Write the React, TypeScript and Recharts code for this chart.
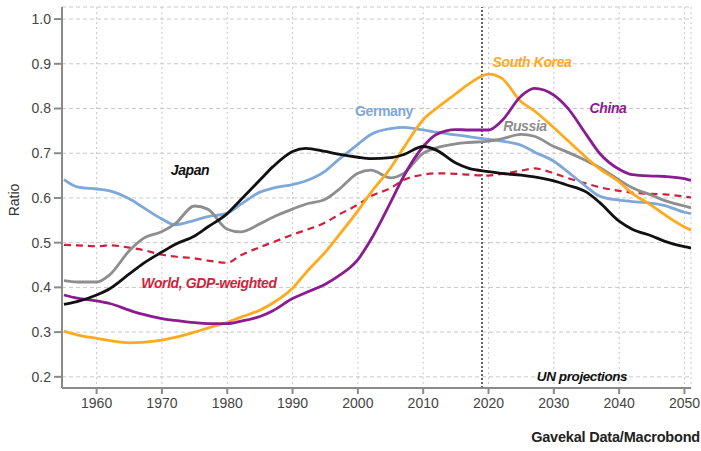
import React from "react";
import {
  LineChart, Line, XAxis, YAxis, CartesianGrid, ReferenceLine,
} from "recharts";

// years; every series below lines up with these
const years = [
  1955, 1957, 1960, 1962, 1965, 1967, 1970, 1972, 1975, 1977,
  1980, 1982, 1985, 1987, 1990, 1992, 1995, 1997, 2000, 2002,
  2005, 2007, 2010, 2012, 2015, 2017, 2020, 2022, 2025, 2027,
  2030, 2032, 2035, 2037, 2040, 2042, 2045, 2047, 2050, 2051,
];

const germany = [
  0.641, 0.625, 0.620, 0.616, 0.598, 0.580, 0.553, 0.540, 0.550, 0.558,
  0.566, 0.585, 0.613, 0.622, 0.630, 0.638, 0.660, 0.685, 0.720, 0.742,
  0.755, 0.758, 0.752, 0.747, 0.741, 0.737, 0.731, 0.727, 0.718, 0.703,
  0.682, 0.660, 0.625, 0.604, 0.595, 0.592, 0.588, 0.583, 0.568, 0.565,
];

const japan = [
  0.362, 0.368, 0.383, 0.397, 0.430, 0.452, 0.479, 0.496, 0.515, 0.535,
  0.565, 0.595, 0.640, 0.670, 0.704, 0.711, 0.704, 0.698, 0.691, 0.688,
  0.690, 0.697, 0.715, 0.707, 0.678, 0.666, 0.659, 0.655, 0.651, 0.647,
  0.638, 0.629, 0.613, 0.590, 0.548, 0.530, 0.515, 0.503, 0.491, 0.488,
];

const russia = [
  0.415, 0.412, 0.412, 0.428, 0.482, 0.508, 0.525, 0.542, 0.582, 0.575,
  0.530, 0.524, 0.542, 0.557, 0.575, 0.586, 0.597, 0.618, 0.655, 0.662,
  0.645, 0.655, 0.700, 0.712, 0.721, 0.724, 0.727, 0.732, 0.742, 0.738,
  0.715, 0.703, 0.683, 0.668, 0.640, 0.623, 0.606, 0.594, 0.582, 0.578,
];

const southKorea = [
  0.302, 0.294, 0.286, 0.281, 0.276, 0.277, 0.282, 0.288, 0.300, 0.309,
  0.322, 0.333, 0.349, 0.365, 0.398, 0.432, 0.479, 0.515, 0.571, 0.612,
  0.667, 0.712, 0.775, 0.800, 0.833, 0.855, 0.877, 0.868, 0.815, 0.795,
  0.757, 0.730, 0.690, 0.665, 0.636, 0.610, 0.583, 0.562, 0.535, 0.528,
];

const china = [
  0.383, 0.376, 0.370, 0.364, 0.349, 0.340, 0.330, 0.326, 0.321, 0.319,
  0.319, 0.324, 0.335, 0.348, 0.375, 0.388, 0.407, 0.425, 0.462, 0.507,
  0.590, 0.648, 0.715, 0.742, 0.753, 0.752, 0.752, 0.772, 0.828, 0.845,
  0.830, 0.803, 0.741, 0.700, 0.664, 0.652, 0.649, 0.648, 0.643, 0.639,
];

const world = [
  0.495, 0.494, 0.492, 0.494, 0.489, 0.484, 0.473, 0.469, 0.465, 0.460,
  0.455, 0.471, 0.490, 0.501, 0.518, 0.528, 0.545, 0.562, 0.585, 0.604,
  0.622, 0.640, 0.652, 0.655, 0.654, 0.652, 0.650, 0.654, 0.661, 0.666,
  0.655, 0.645, 0.632, 0.624, 0.616, 0.612, 0.609, 0.608, 0.603, 0.601,
];

const xTicks = [1960, 1970, 1980, 1990, 2000, 2010, 2020, 2030, 2040, 2050];
const yTicks = [0.2, 0.3, 0.4, 0.5, 0.6, 0.7, 0.8, 0.9, 1.0];
const projectionStart = 2019;

const data = years.map((year, i) => ({
  year,
  germany: germany[i],
  japan: japan[i],
  russia: russia[i],
  southKorea: southKorea[i],
  china: china[i],
  world: world[i],
}));

const FONT = "'Liberation Sans', Arial, sans-serif";
const AXIS = "#8a8a8a";
const GRID = "#c8c8c8";

const labelStyle = (x: number, y: number, color: string, size = 14): React.CSSProperties => ({
  position: "absolute",
  left: x,
  top: y,
  transform: "translate(-50%, -50%)",
  color,
  fontFamily: FONT,
  fontWeight: 700,
  fontStyle: "italic",
  fontSize: size,
  whiteSpace: "nowrap",
  letterSpacing: -0.4,
});

export default function App() {
  return (
    <div style={{ position: "absolute", left: 0, top: 0, width: 701, height: 451, background: "#fff" }}>
      <LineChart
        width={701}
        height={451}
        data={data}
        margin={{ top: 7, right: 10, bottom: 33, left: 0 }}
      >
        <CartesianGrid vertical={false} stroke={GRID} strokeDasharray="4 3" />
        <CartesianGrid horizontal={false} stroke={GRID} strokeDasharray="2 3" />
        <XAxis
          dataKey="year"
          type="number"
          domain={[1954.7, 2051]}
          allowDataOverflow
          ticks={xTicks}
          interval={0}
          height={30}
          tickSize={6}
          tickMargin={4}
          stroke={AXIS}
          strokeWidth={2}
          tick={{ fill: "#444", fontSize: 14, fontFamily: FONT }}
        />
        <XAxis xAxisId="top" orientation="top" dataKey="year" type="number"
          domain={[1954.7, 2051]} height={0} tick={false} tickLine={false}
          stroke={AXIS} strokeWidth={1.5} />
        <YAxis
          type="number"
          domain={[0.175, 1.027]}
          allowDataOverflow
          ticks={yTicks}
          interval={0}
          width={62}
          tickSize={8}
          tickMargin={3}
          stroke={AXIS}
          strokeWidth={2}
          tickFormatter={(v) => Number(v).toFixed(1)}
          tick={{ fill: "#444", fontSize: 14, fontFamily: FONT }}
        />
        <YAxis yAxisId="right" orientation="right" domain={[0.175, 1.027]}
          width={0} tick={false} tickLine={false} stroke={AXIS} strokeWidth={2} />
        <ReferenceLine x={projectionStart} stroke="#333" strokeWidth={1.5} strokeDasharray="2 2" />
        <Line type="monotone" dataKey="world" stroke="#d21f3c" strokeWidth={2.2}
          strokeDasharray="7 5" dot={false} isAnimationActive={false} />
        <Line type="monotone" dataKey="germany" stroke="#7ea7da" strokeWidth={2.8}
          dot={false} isAnimationActive={false} />
        <Line type="monotone" dataKey="russia" stroke="#8e8e8e" strokeWidth={2.8}
          dot={false} isAnimationActive={false} />
        <Line type="monotone" dataKey="southKorea" stroke="#ffa91c" strokeWidth={2.8}
          dot={false} isAnimationActive={false} />
        <Line type="monotone" dataKey="china" stroke="#8a1b91" strokeWidth={2.8}
          dot={false} isAnimationActive={false} />
        <Line type="monotone" dataKey="japan" stroke="#111" strokeWidth={2.8}
          dot={false} isAnimationActive={false} />
      </LineChart>

      <div style={{
        position: "absolute", left: 14, top: 200, transform: "translate(-50%, -50%) rotate(-90deg)",
        fontFamily: FONT, fontSize: 14, color: "#333",
      }}>Ratio</div>

      <div style={labelStyle(190, 170, "#111")}>Japan</div>
      <div style={{ ...labelStyle(384, 111, "#7ea7da"), fontStyle: "normal" }}>Germany</div>
      <div style={labelStyle(532, 62, "#ffa91c")}>South Korea</div>
      <div style={labelStyle(608, 108, "#8a1b91")}>China</div>
      <div style={labelStyle(525, 126, "#8e8e8e")}>Russia</div>
      <div style={labelStyle(209, 283, "#d21f3c")}>World, GDP-weighted</div>
      <div style={labelStyle(582, 376, "#111", 13.5)}>UN projections</div>
      <div style={{
        position: "absolute", right: 1, top: 429, fontFamily: FONT, fontWeight: 700,
        fontSize: 14.5, color: "#222", whiteSpace: "nowrap", letterSpacing: -0.2,
      }}>Gavekal Data/Macrobond</div>
    </div>
  );
}
